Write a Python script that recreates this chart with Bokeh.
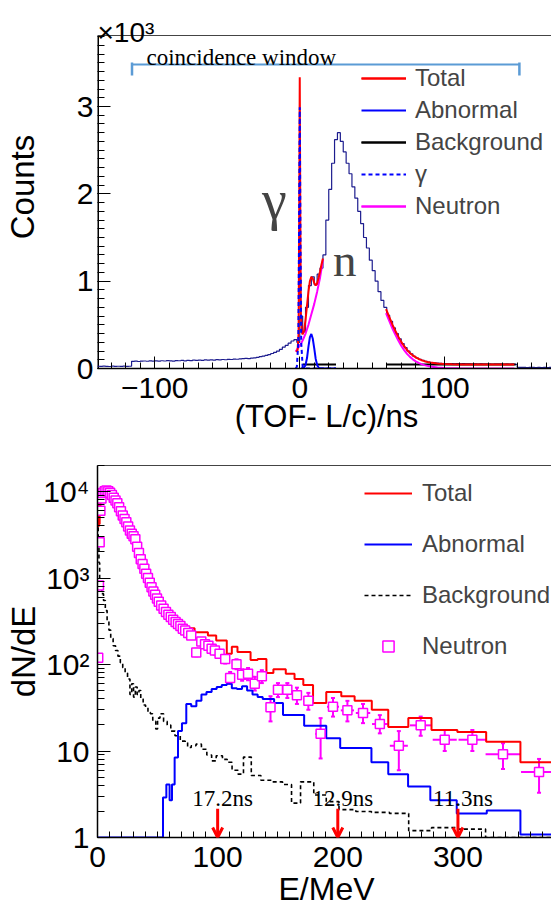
import numpy as np
from bokeh.plotting import figure
from bokeh.layouts import column
from bokeh.models import (Legend, LegendItem, Label, LinearAxis, SingleIntervalTicker,
                          LogTicker, FixedTicker, ColumnDataSource, Whisker, TeeHead,
                          Arrow, OpenHead)
from bokeh.embed import file_html
from bokeh.resources import INLINE
from bokeh.core.properties import value

SANS = "Liberation Sans"
SERIF = "Liberation Serif"

RED = "#ff0000"
BLUE = "#0000ff"
MAG = "#ff00ff"
NAVY = "#1c1c8e"
WIN = "#5b9bd5"

# ------------------------------------------------------------------
# Top panel data : TOF spectrum (2 ns bins starting at -140 ns)
# ------------------------------------------------------------------
tof_first_edge = -140
tof_bin_width = 2
tof_counts = [
    26, 24, 27, 25, 23, 28, 25, 26, 24, 27, 25, 26,
    82, 85, 80, 84, 86, 83, 88, 85, 87, 84, 89, 86, 90, 88, 85, 91, 89, 92, 88, 93,
    90, 95, 92, 96, 94, 98, 95, 99, 97, 101, 99, 103, 100, 105, 103, 108, 106, 110,
    112, 115, 113, 118, 122,
    128, 135, 142, 150, 160, 172, 185, 200, 220, 245, 265, 290, 315, 330, 300,
    600, 420, 700, 950, 1050, 960, 1080, 1150, 1300, 1700, 2050, 2350, 2620,
    2700, 2600, 2480, 2350, 2230, 2080, 1950, 1800, 1660, 1500, 1380, 1240, 1120,
    1000, 880, 780, 700,
    610, 540, 465, 400, 340, 285, 240, 200, 168, 140, 120, 104, 92, 82, 74, 68,
    64, 61, 59, 57,
    57, 56, 55, 54, 56, 53, 55, 52, 54, 51, 53, 50, 52, 49, 51, 50, 48, 51, 49, 50,
    47, 50, 48, 49, 47,
    14, 12, 13, 11, 12, 13, 11, 12, 10, 12, 11, 12, 10, 11,
]
tof_edges = [tof_first_edge + i * tof_bin_width for i in range(len(tof_counts) + 1)]

# axis extents of the TOF panel (ns, counts)
tof_xmin, tof_xmax = -139.5, 176.4
counts_max = 3813

# coincidence window
window_ns = [-115.7, 151.5]
window_level = 3481
window_cap_top = 3505
window_cap_bottom = 3355

# fit components, first fit range
total1_t = [-2.5, -1.5, -0.8, -0.4, 0, 0.4, 0.8, 1.5, 2, 3, 4, 5, 6, 7, 8, 9, 10, 11, 12, 13, 14, 15, 16]
total1_c = [190, 210, 400, 1700, 3335, 1700, 600, 410, 390, 430, 560, 720, 880, 1000, 1050, 1030, 980, 950, 975, 1040, 1110, 1190, 1260]
neutron1_t = [-2.8, -2, -1, 0, 1, 2, 3, 4, 5, 6, 7, 8, 9, 10, 11, 12, 13, 14, 15, 16]
neutron1_c = [195, 215, 240, 262, 290, 320, 360, 400, 450, 500, 560, 620, 680, 740, 810, 880, 960, 1040, 1140, 1250]
abnormal1_t = [1, 3, 4, 5, 6, 7, 8, 9, 10, 11, 12, 13, 14, 25]
abnormal1_c = [0, 10, 40, 120, 250, 360, 395, 340, 230, 110, 40, 10, 0, 0]
gamma_t = [-2.8, -2, -1, -0.5, 0, 0.5, 1, 2, 3, 25]
gamma_c = [0, 20, 300, 1500, 2990, 1500, 300, 20, 0, 0]
bkg1_t = [2, 25]
bkg1_c = [45, 45]

# second fit range
total2_t = [59.5, 62, 64, 66, 68, 70, 72, 74, 76, 78, 80, 82, 84, 86, 88, 90, 95, 100, 105, 110, 120, 130, 148]
total2_c = [680, 580, 500, 430, 365, 305, 255, 212, 178, 150, 127, 109, 95, 84, 75, 68, 57, 51, 48, 46.5, 45.5, 45, 45]
neutron2_c = [635, 535, 455, 385, 320, 260, 210, 167, 133, 105, 82, 64, 50, 39, 30, 23, 12, 6, 3, 1.5, 0.5, 0, 0]
bkg2_t = [60, 149]
bkg2_c = [45, 45]

top_y_major = [0, 1000, 2000, 3000]
top_y_minor = list(range(0, 3801, 100))
top_y_ticks = {0: "0", 1000: "1", 2000: "2", 3000: "3"}
top_x_ticks = {-100: "\u2212100", 0: "0", 100: "100"}

# ------------------------------------------------------------------
# Bottom panel data : energy spectrum
# ------------------------------------------------------------------
total_edges = [0, 0.6, 1.2, 1.8, 2.5, 3.5, 5, 6.5, 8, 9.5, 11, 13, 15, 17, 19, 21, 23, 25, 27, 29,
               31, 33, 35, 37, 39, 41, 43, 45, 47, 49, 51, 53, 55, 57.5, 60, 64.5, 68.9, 74.8, 80.8,
               91.9, 98.8, 107.6, 111.8, 116.5, 127.4, 133.3, 140.6, 146.4, 156.7, 164, 171.3,
               179.4, 190.4, 202.9, 214, 228.3, 242, 258.7, 278, 299.5, 323.5, 352, 400]
total_vals = [8500, 4000, 4200, 6800, 9000, 10200, 10600, 10700, 10400, 10000, 9300, 8400, 7600,
              6800, 5900, 5100, 4550, 4000, 3550, 3150, 2600, 2100, 1750, 1450, 1250, 1070, 920,
              800, 700, 620, 560, 500, 450, 410, 350, 315, 285, 262, 236, 216, 189, 133, 160, 140,
              113, 116, 80, 88, 78, 68, 58, 36, 48, 43, 38, 30, 19, 24, 17.5, 16.6, 12.8, 7.4]

abn_edges = [0, 54.5, 57.3, 60, 62, 64.2, 67, 70.3, 73.9, 78, 82.3, 86.5, 90.7, 95, 99.2, 103.4,
             107.6, 111.8, 116, 120.3, 124.5, 129, 133.3, 137.5, 142, 147, 154.4, 172, 190.4, 202,
             228, 242, 258.5, 277, 299, 324, 352, 400]
abn_vals = [1, 2.9, 4.1, 2.7, 4.1, 8.4, 17, 21, 35, 33, 38, 45, 48, 52, 55, 58, 60, 53, 52, 56,
            50, 45, 42, 40, 40, 36, 26, 19.6, 14, 10.8, 7.4, 5.4, 3.9, 2.7, 1.9, 2.05, 1.08]

bkg_edges = [0, 0.6, 1.2, 1.8, 2.5, 3.5, 5, 6.5, 8, 9.5, 11, 13, 15, 17, 19, 21, 23, 25, 27, 28.5,
             30, 31.5, 33, 34.5, 36, 38, 40, 42, 44, 46, 48.5, 50, 52, 55, 58, 61, 64.5, 68.9, 73,
             75, 78, 82, 86.5, 91, 95, 98.8, 104, 108, 112, 117, 121.5, 128, 136, 145, 154, 161.5,
             169, 180, 190.4, 201, 215, 228, 243, 259, 278, 300, 323, 400]
bkg_vals = [8000, 3000, 1500, 900, 800, 660, 550, 420, 320, 250, 200, 165, 145, 125, 105, 92, 80,
            68, 45, 60, 42, 55, 45, 50, 40, 34, 32, 28, 27, 22, 18, 24, 27, 22, 20, 17, 15, 13,
            12.5, 11, 11.5, 12, 10.5, 9, 7.7, 8.8, 8, 7.4, 6, 5.4, 8.5, 5.2, 4.6, 4.4, 4.1, 2.5,
            4.4, 3.1, 2.6, 2.1, 2.0, 1.95, 1.9, 1.2, 1.3, 1.25, 1.0]

neutron_E = [0.6, 1.2, 1.8, 2.4, 3.3, 4.5, 6, 7.5, 9, 10.5, 12, 13.5, 15, 16.5, 18, 19.5, 21, 22.5,
             24, 25.5, 27, 28.5, 30, 31.5, 33, 34.5, 36, 37.5, 39, 40.5, 42, 43.5, 45, 46.5, 48,
             49.5, 51, 53, 55, 57, 59, 61, 63, 65, 67, 69, 71, 73, 75.5, 78]
neutron_N = [120, 820, 2600, 6000, 8300, 9600, 10100, 10300, 10100, 9700, 9100, 8500, 7900, 7300,
             6600, 5900, 5300, 4800, 4400, 3950, 3550, 3250, 3050, 2800, 2300, 1950, 1650, 1450,
             1280, 1120, 1000, 880, 780, 700, 640, 580, 530, 480, 440, 405, 375, 355, 330, 310,
             295, 278, 260, 247, 232, 216]

# high-energy neutron points with errors
nerr_E = [82.2, 86.4, 89.5, 92.3, 95, 97.7, 101.6, 106.3, 110.4, 115.7, 120.4, 125.3, 130.9, 136.8,
          144, 150.2, 158, 166, 175.5, 185.7, 196, 208, 221, 235, 250.8, 269, 289, 312, 337.5, 367.5]
nerr_N = [138, 185, 172, 165, 152, 145, 133, 116, 70, 101, 76, 78, 60, 73, 32, 51, 51, 44, 38, 15.8,
          32.5, 29.5, 27.5, 20.5, 11.5, 19.8, 13.5, 13.5, 9.2, 5.7]
nerr_lo = [125, 170, 158, 150, 138, 131, 119, 103, 60, 88, 65, 66, 50, 61, 22, 42, 41, 35, 30, 8.2,
           25, 22, 21, 16, 6, 15, 10, 10, 6.2, 3.3]
nerr_hi = [152, 200, 187, 180, 167, 160, 148, 130, 82, 115, 88, 91, 72, 86, 43, 61, 61, 54, 47, 24,
           41, 38, 35, 26, 17, 25, 17.5, 17.5, 12.3, 8.1]
nerr_halfwidth = [1.5, 1.8, 1.8, 1.8, 1.9, 2, 2, 2.1, 2.2, 2.3, 2.4, 2.5, 2.6, 2.8, 3, 3.1, 3.3, 3.6,
                  4, 4.5, 5, 5.5, 6, 6.5, 7.5, 9, 10, 11.5, 14.5, 15]

arrow_E = [100, 200, 300]
arrow_top = 2.15
arrow_bottom = 1.0
arrow_labels = ["17.2ns", "12.9ns", "11.3ns"]
arrow_label_level = 2.8

bot_y_ticks = {1: "1", 10: "10", 100: "10\u00b2", 1000: "10\u00b3", 10000: "10\u2074"}


def style_axes(p, xt, yt, xlab_over, ylab_over, xstand_ticks, ystand, xtitle, xsize, xstand,
               ytitle, ysize, ystand_title, top_axis=True, yline=True):
    xb = p.below[0]
    yl = p.left[0]
    for ax in (xb, yl):
        ax.axis_line_color = "black"
        ax.axis_line_width = 1.5
        ax.major_tick_line_color = "black"
        ax.minor_tick_line_color = "black"
        ax.major_tick_out = 0
        ax.minor_tick_out = 0
        ax.major_label_text_font = SANS
        ax.major_label_text_font_size = "30px"
        ax.major_label_text_color = "black"
        ax.axis_label_text_font = SANS
        ax.axis_label_text_font_style = "normal"
        ax.axis_label_text_color = "black"
    if not yline:
        yl.axis_line_color = None
    xb.ticker = xt
    xb.major_tick_in = 12
    xb.minor_tick_in = 6
    xb.major_label_standoff = xstand_ticks
    xb.major_label_overrides = xlab_over
    xb.axis_label = xtitle
    xb.axis_label_text_font_size = xsize
    xb.axis_label_standoff = xstand
    yl.ticker = yt
    yl.major_tick_in = 13
    yl.minor_tick_in = 7
    yl.major_label_standoff = ystand
    yl.major_label_overrides = ylab_over
    yl.axis_label = ytitle
    yl.axis_label_text_font_size = ysize
    yl.axis_label_standoff = ystand_title
    if top_axis:
        top_border = LinearAxis(ticker=FixedTicker(ticks=[]), major_label_text_font_size="0px",
                                axis_line_color="#444444", axis_line_width=1.2,
                                major_tick_line_color=None, minor_tick_line_color=None,
                                major_label_standoff=0)
        p.add_layout(top_border, "above")
    p.grid.visible = False
    p.outline_line_color = None


# ------------------------------------------------------------------
# Top figure (frame reaches above the axes box to hold the x10^3 multiplier)
# ------------------------------------------------------------------
px_per_count = 333 / counts_max
p1 = figure(frame_width=458, frame_height=363, x_range=(tof_xmin, tof_xmax),
            y_range=(0, counts_max + 30 / px_per_count),
            output_backend="svg", toolbar_location=None,
            min_border_left=93, min_border_right=0, min_border_top=5, min_border_bottom=72)
style_axes(p1, SingleIntervalTicker(interval=100, num_minor_ticks=10),
           FixedTicker(ticks=top_y_major, minor_ticks=top_y_minor),
           top_x_ticks, top_y_ticks, 9, 4,
           "(TOF- L/c)/ns", "31px", -2, "Counts", "33px", 33, top_axis=False, yline=False)

# box lines of the axes (left and top)
p1.segment(x0=[tof_xmin], y0=[0], x1=[tof_xmin], y1=[counts_max], line_color="black",
           line_width=3)
p1.segment(x0=[tof_xmin], y0=[counts_max], x1=[tof_xmax], y1=[counts_max],
           line_color="#444444", line_width=1.2)

p1.step(tof_edges, tof_counts + [tof_counts[-1]], mode="after", line_color=NAVY, line_width=1.2)

r_bkg1 = p1.line(bkg1_t, bkg1_c, line_color="black", line_width=2)
r_bkg2 = p1.line(bkg2_t, bkg2_c, line_color="black", line_width=2)
r_abn = p1.line(abnormal1_t, abnormal1_c, line_color=BLUE, line_width=2)
r_neu1 = p1.line(neutron1_t, neutron1_c, line_color=MAG, line_width=2)
r_neu2 = p1.line(total2_t, neutron2_c, line_color=MAG, line_width=2)
r_tot1 = p1.line(total1_t, total1_c, line_color=RED, line_width=2)
r_tot2 = p1.line(total2_t, total2_c, line_color=RED, line_width=2)
r_gam = p1.line(gamma_t, gamma_c, line_color=BLUE, line_width=2, line_dash="4 3")

p1.segment(x0=[window_ns[0]], y0=[window_level], x1=[window_ns[1]], y1=[window_level],
           line_color=WIN, line_width=2)
p1.segment(x0=window_ns, y0=[window_cap_top] * 2, x1=window_ns, y1=[window_cap_bottom] * 2,
           line_color=WIN, line_width=2.5)

leg1 = Legend(items=[LegendItem(label="Total", renderers=[r_tot1, r_tot2]),
                     LegendItem(label="Abnormal", renderers=[r_abn]),
                     LegendItem(label="Background", renderers=[r_bkg1, r_bkg2]),
                     LegendItem(label="\u03b3", renderers=[r_gam]),
                     LegendItem(label="Neutron", renderers=[r_neu1, r_neu2])],
              location=(264, 148), orientation="vertical",
              label_text_font=SANS, label_text_font_size="24px",
              glyph_width=45, glyph_height=28, label_height=28, label_standoff=9,
              spacing=4, padding=0, margin=0, border_line_color=None,
              background_fill_alpha=0)
p1.add_layout(leg1)

p1.add_layout(Label(x=tof_xmin, y=counts_max + 3.5 / px_per_count, text="\u00d710\u00b3",
                    text_font=SANS, text_font_size="28px", text_align="left",
                    text_baseline="alphabetic", text_color="black"))
p1.add_layout(Label(x=-105.7, y=3565, text="coincidence window", text_font=SERIF,
                    text_font_size="23px", text_baseline="alphabetic", text_color="black"))
p1.add_layout(Label(x=-17.5, y=1935, text="\u03b3", text_font=SERIF, text_font_size="56px",
                    text_align="center", text_baseline="alphabetic"))
p1.add_layout(Label(x=31, y=1240, text="n", text_font=SERIF, text_font_size="47px",
                    text_align="center", text_baseline="alphabetic"))

# ------------------------------------------------------------------
# Bottom figure
# ------------------------------------------------------------------
p2 = figure(frame_width=458, frame_height=372, x_range=(0, 381.2), y_range=(1, 20000),
            y_axis_type="log", output_backend="svg", toolbar_location=None,
            min_border_left=93, min_border_right=0, min_border_top=25, min_border_bottom=72)
style_axes(p2, SingleIntervalTicker(interval=100, num_minor_ticks=10),
           LogTicker(num_minor_ticks=10), {0: "0", 100: "100", 200: "200", 300: "300"},
           bot_y_ticks, 9, 8, "E/MeV", "32px", 1, "dN/dE", "33px", -2)

r_b_bkg = p2.step(bkg_edges, bkg_vals + [bkg_vals[-1]], mode="after", line_color="black",
                  line_width=1.6, line_dash="4 3")
r_b_abn = p2.step(abn_edges, abn_vals + [abn_vals[-1]], mode="after", line_color=BLUE,
                  line_width=2)
r_b_tot = p2.step(total_edges, total_vals + [total_vals[-1]], mode="after", line_color=RED,
                  line_width=2)

err_src = ColumnDataSource(dict(
    E=nerr_E, N=nerr_N, lo=nerr_lo, hi=nerr_hi,
    xl=[e - w for e, w in zip(nerr_E, nerr_halfwidth)],
    xr=[e + w for e, w in zip(nerr_E, nerr_halfwidth)]))
p2.add_layout(Whisker(source=err_src, base="E", lower="lo", upper="hi", dimension="height",
                      line_color=MAG, line_width=2,
                      upper_head=TeeHead(size=4, line_color=MAG, line_width=2),
                      lower_head=TeeHead(size=4, line_color=MAG, line_width=2)))
p2.add_layout(Whisker(source=err_src, base="N", lower="xl", upper="xr", dimension="width",
                      line_color=MAG, line_width=2, upper_head=None, lower_head=None))

r_b_neu = p2.scatter(neutron_E + nerr_E, neutron_N + nerr_N, marker="square", size=9,
                     line_color=MAG, line_width=1.5, fill_color="white")

arr_src = ColumnDataSource(dict(x=arrow_E, y0=[arrow_top] * 3, y1=[arrow_bottom] * 3))
p2.add_layout(Arrow(source=arr_src, x_start="x", y_start="y0", x_end="x", y_end="y1",
                    line_color=RED, line_width=3,
                    end=OpenHead(size=10, line_color=RED, line_width=3)))
p2.text(x=arrow_E, y=[arrow_label_level] * 3, text=arrow_labels, text_font=value(SERIF),
        text_font_size="23px", text_align="center", text_baseline="alphabetic",
        x_offset=5, text_color="black")

leg2 = Legend(items=[LegendItem(label="Total", renderers=[r_b_tot]),
                     LegendItem(label="Abnormal", renderers=[r_b_abn]),
                     LegendItem(label="Background", renderers=[r_b_bkg]),
                     LegendItem(label="Neutron", renderers=[r_b_neu])],
              location=(269, 177), orientation="vertical",
              label_text_font=SANS, label_text_font_size="24px",
              glyph_width=48, glyph_height=28, label_height=28, label_standoff=10,
              spacing=23, padding=0, margin=0, border_line_color=None,
              background_fill_alpha=0)
p2.add_layout(leg2)

layout = column(p1, p2, spacing=0)
open("out.html", "w").write(file_html(layout, INLINE))
